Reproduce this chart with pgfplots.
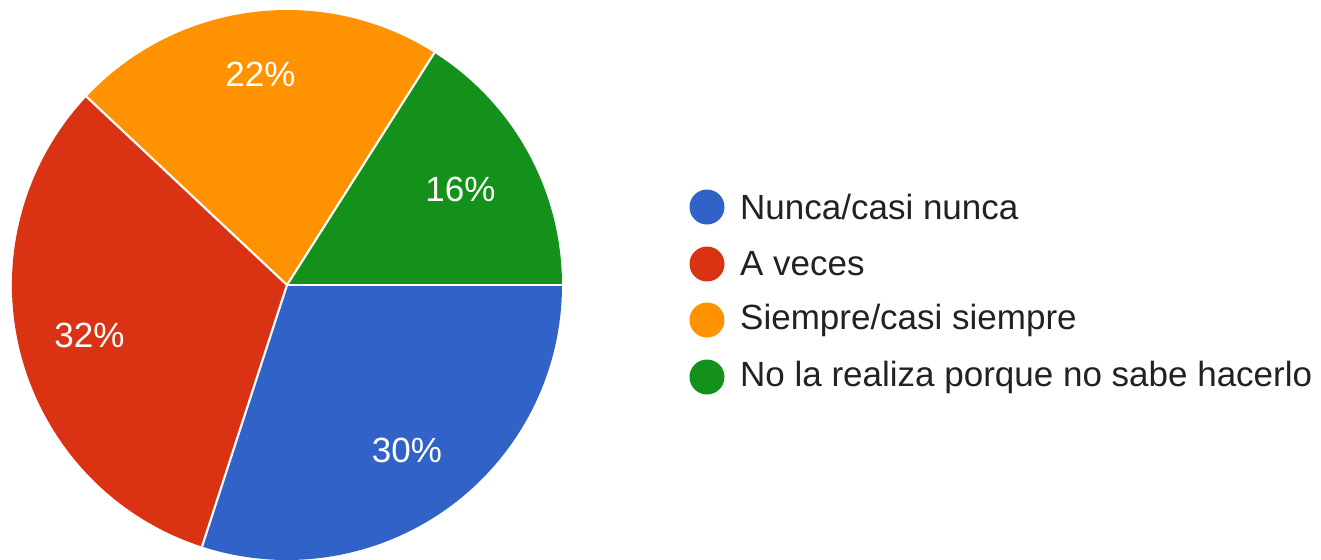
\documentclass[border=0pt]{standalone}
\usepackage{pgfplots}
\pgfplotsset{compat=1.18}
\usepackage{pgfplotstable}
\usetikzlibrary{calc}
\usepackage{fontspec}
\setmainfont{Liberation Sans}
\definecolor{cblue}{HTML}{3062C8}
\definecolor{cred}{HTML}{D93314}
\definecolor{corange}{HTML}{FF9200}
\definecolor{cgreen}{HTML}{13911B}
\definecolor{ctext}{HTML}{222222}
\pgfplotstableread[col sep=comma]{
name,value
Nunca/casi nunca,30
A veces,32
Siempre/casi siempre,22
No la realiza porque no sabe hacerlo,16
}\piedata
\begin{document}
\begin{tikzpicture}
\pgfplotstablegetelem{0}{value}\of\piedata\let\vA\pgfplotsretval
\pgfplotstablegetelem{1}{value}\of\piedata\let\vB\pgfplotsretval
\pgfplotstablegetelem{2}{value}\of\piedata\let\vC\pgfplotsretval
\pgfplotstablegetelem{3}{value}\of\piedata\let\vD\pgfplotsretval
\pgfplotstablegetelem{0}{name}\of\piedata\let\nA\pgfplotsretval
\pgfplotstablegetelem{1}{name}\of\piedata\let\nB\pgfplotsretval
\pgfplotstablegetelem{2}{name}\of\piedata\let\nC\pgfplotsretval
\pgfplotstablegetelem{3}{name}\of\piedata\let\nD\pgfplotsretval
\pgfmathsetmacro\aA{0}
\pgfmathsetmacro\aB{\aA-3.6*\vA}
\pgfmathsetmacro\aC{\aB-3.6*\vB}
\pgfmathsetmacro\aD{\aC-3.6*\vC}
\pgfmathsetmacro\aE{\aD-3.6*\vD}
\pgfmathsetmacro\mA{(\aA+\aB)/2}
\pgfmathsetmacro\mB{(\aB+\aC)/2}
\pgfmathsetmacro\mC{(\aC+\aD)/2}
\pgfmathsetmacro\mD{(\aD+\aE)/2}
\begin{axis}[
  hide axis, scale only axis, clip=false,
  width=1321bp, height=560bp, anchor=south west, at={(0,0)},
  xmin=0, xmax=1321, ymin=0, ymax=560, y dir=reverse,
]
\def\R{275bp}
\fill[cblue] (axis cs:287,285) -- ++(\aA:\R) arc[start angle=\aA, end angle=\aB, radius=\R] -- cycle;
\fill[cred] (axis cs:287,285) -- ++(\aB:\R) arc[start angle=\aB, end angle=\aC, radius=\R] -- cycle;
\fill[corange] (axis cs:287,285) -- ++(\aC:\R) arc[start angle=\aC, end angle=\aD, radius=\R] -- cycle;
\fill[cgreen] (axis cs:287,285) -- ++(\aD:\R) arc[start angle=\aD, end angle=\aE, radius=\R] -- cycle;
\draw[white, line width=2.2bp] (axis cs:287,285) -- ++(\aA:\R);
\draw[white, line width=2.2bp] (axis cs:287,285) -- ++(\aB:\R);
\draw[white, line width=2.2bp] (axis cs:287,285) -- ++(\aC:\R);
\draw[white, line width=2.2bp] (axis cs:287,285) -- ++(\aD:\R);
\def\lf{\fontsize{35bp}{40bp}\selectfont}
\node[white, font=\lf] at ($(axis cs:287,285)+(\mA:204bp)$) {\vA\%};
\node[white, font=\lf] at ($(axis cs:287,285)+(\mB:204bp)$) {\vB\%};
\node[white, font=\lf] at ($(axis cs:287,285)+(\mC:212bp)$) {\vC\%};
\node[white, font=\lf] at ($(axis cs:287,285)+(\mD:198bp)$) {\vD\%};
% legend
\fill[cblue] (axis cs:707,207) circle[radius=17.5bp];
\fill[cred] (axis cs:707,264) circle[radius=17.5bp];
\fill[corange] (axis cs:707,320) circle[radius=17.5bp];
\fill[cgreen] (axis cs:707,377) circle[radius=17.5bp];
\node[ctext, font=\lf, anchor=west, inner sep=0pt] at (axis cs:740,207) {\nA};
\node[ctext, font=\lf, anchor=west, inner sep=0pt] at (axis cs:740,264) {\nB};
\node[ctext, font=\lf, anchor=west, inner sep=0pt] at (axis cs:740,320) {\nC};
\node[ctext, font=\lf, anchor=west, inner sep=0pt] at (axis cs:740,377) {\nD};
\end{axis}
\pgfresetboundingbox
\path[use as bounding box] (0,0) rectangle (1321bp,560bp);
\end{tikzpicture}
\end{document}
